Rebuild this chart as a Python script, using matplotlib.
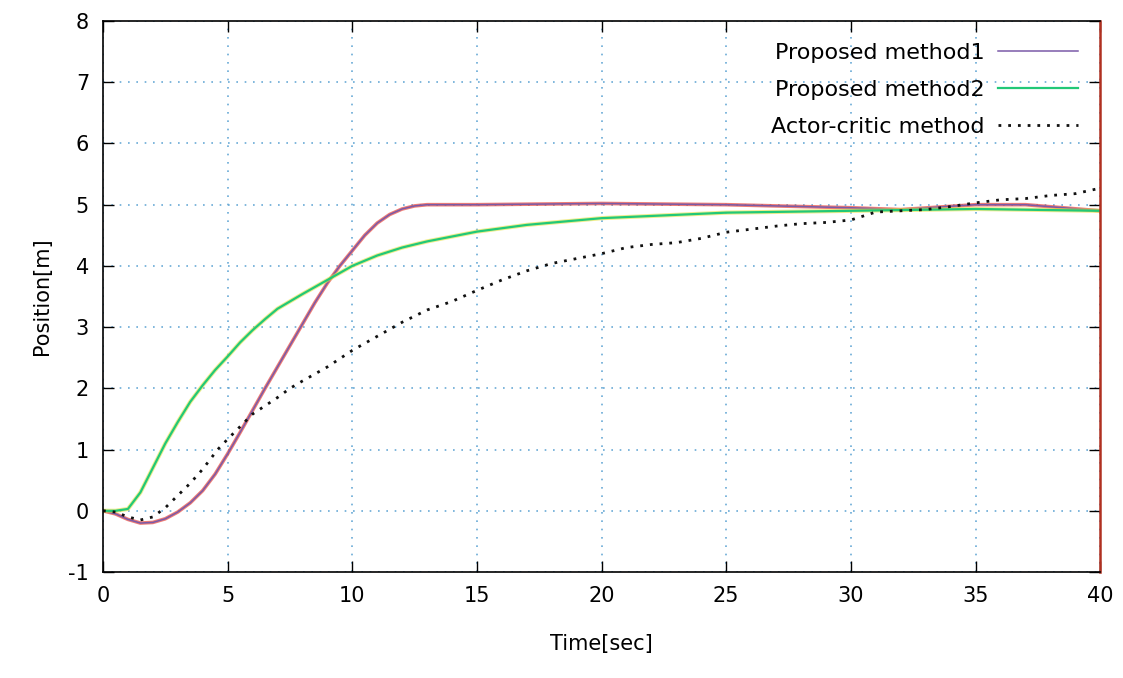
import matplotlib
matplotlib.use('Agg')
import matplotlib.pyplot as plt

plt.rcParams['axes.unicode_minus'] = False

# Proposed method1 (purple, drawn over a red trace)
t1 = [0, 0.5, 1, 1.5, 2, 2.5, 3, 3.5, 4, 4.5, 5, 5.5, 6, 6.5, 7, 7.5, 8, 8.5, 9, 9.5,
      10, 10.5, 11, 11.5, 12, 12.5, 13, 15, 20, 25, 30, 32, 35, 37, 40]
pos1 = [0, -0.05, -0.14, -0.2, -0.19, -0.13, -0.02, 0.13, 0.33, 0.6, 0.93, 1.28, 1.64, 2.0,
        2.35, 2.7, 3.05, 3.4, 3.72, 4.0, 4.25, 4.5, 4.7, 4.84, 4.93, 4.98, 5.0, 5.0, 5.02,
        5.0, 4.95, 4.92, 5.0, 5.0, 4.9]

# Proposed method2 (green)
t2 = [0, 0.5, 1, 1.5, 2, 2.5, 3, 3.5, 4, 4.5, 5, 5.5, 6, 6.5, 7, 8, 9, 10, 11, 12, 13, 15,
      17, 20, 25, 30, 35, 40]
pos2 = [0, 0.0, 0.03, 0.3, 0.7, 1.1, 1.45, 1.78, 2.05, 2.3, 2.52, 2.75, 2.95, 3.13, 3.3,
        3.54, 3.77, 4.0, 4.17, 4.3, 4.4, 4.56, 4.67, 4.78, 4.87, 4.9, 4.93, 4.9]

# Actor-critic method (black dotted)
t3 = [0, 0.5, 1, 1.5, 2, 2.5, 3, 3.5, 4, 4.6, 5, 6, 7, 7.5, 8, 9, 10, 11, 12, 13, 13.5, 14, 15,
      16, 17, 18, 19, 20, 21, 22, 23, 24, 25, 26, 27, 28, 29, 30, 31, 32, 33, 34, 35, 36,
      37, 38, 39, 40]
pos3 = [0, -0.02, -0.1, -0.15, -0.1, 0.05, 0.25, 0.45, 0.68, 1.0, 1.17, 1.58, 1.85, 2.0,
        2.12, 2.35, 2.62, 2.85, 3.08, 3.28, 3.35, 3.42, 3.6, 3.77, 3.92, 4.04, 4.12, 4.2,
        4.3, 4.35, 4.38, 4.45, 4.55, 4.6, 4.65, 4.69, 4.71, 4.75, 4.88, 4.9, 4.92, 4.97,
        5.03, 5.08, 5.1, 5.15, 5.18, 5.27]

labels = ['Proposed method1', 'Proposed method2', 'Actor-critic method']

fig = plt.figure(figsize=(11.23, 6.78), dpi=100)
ax = fig.add_axes([0.0917, 0.1563, 0.888, 0.8127])

# Grid
ax.grid(True, color='#6aaad6', linestyle=(0, (1, 4)), linewidth=1.2)
ax.set_axisbelow(True)

# Curves
ax.plot(t1, pos1, color='#e8453a', linewidth=2.6, alpha=0.7)
ax.plot(t1, pos1, color='#7a5aa8', linewidth=1.1, label=labels[0])
ax.plot(t2, pos2, color='#e6e040', linewidth=3.0, alpha=0.6)
ax.plot(t2, pos2, color='#22c877', linewidth=1.6, label=labels[1])
ax.plot(t3, pos3, color='#111111', linestyle=(0, (1, 2.5)), linewidth=2.0, label=labels[2])

ax.set_xlim(0, 40)
ax.set_ylim(-1, 8)
ax.set_xticks(range(0, 41, 5))
ax.set_yticks(range(-1, 9))
ax.tick_params(direction='in', length=8, width=1, top=True, right=True,
               labelsize=15, pad=10, colors='black')

for s in ax.spines.values():
    s.set_linewidth(1.2)
ax.spines['right'].set_color('#b03020')
ax.spines['right'].set_linewidth(1.8)

ax.set_xlabel('Time[sec]', fontsize=15, labelpad=20)
ax.set_ylabel('Position[m]', fontsize=15, labelpad=12)

# Legend (gnuplot style: text right-aligned, sample on the right)
handles, labs = ax.get_legend_handles_labels()
leg = ax.legend(handles, labs, loc='upper right', frameon=False, markerfirst=False,
                fontsize=16, handlelength=3.6, borderaxespad=0.6, labelspacing=0.75,
                handletextpad=0.6)
for txt in leg.get_texts():
    txt.set_ha('right')

fig.savefig('out.png', dpi=100)
